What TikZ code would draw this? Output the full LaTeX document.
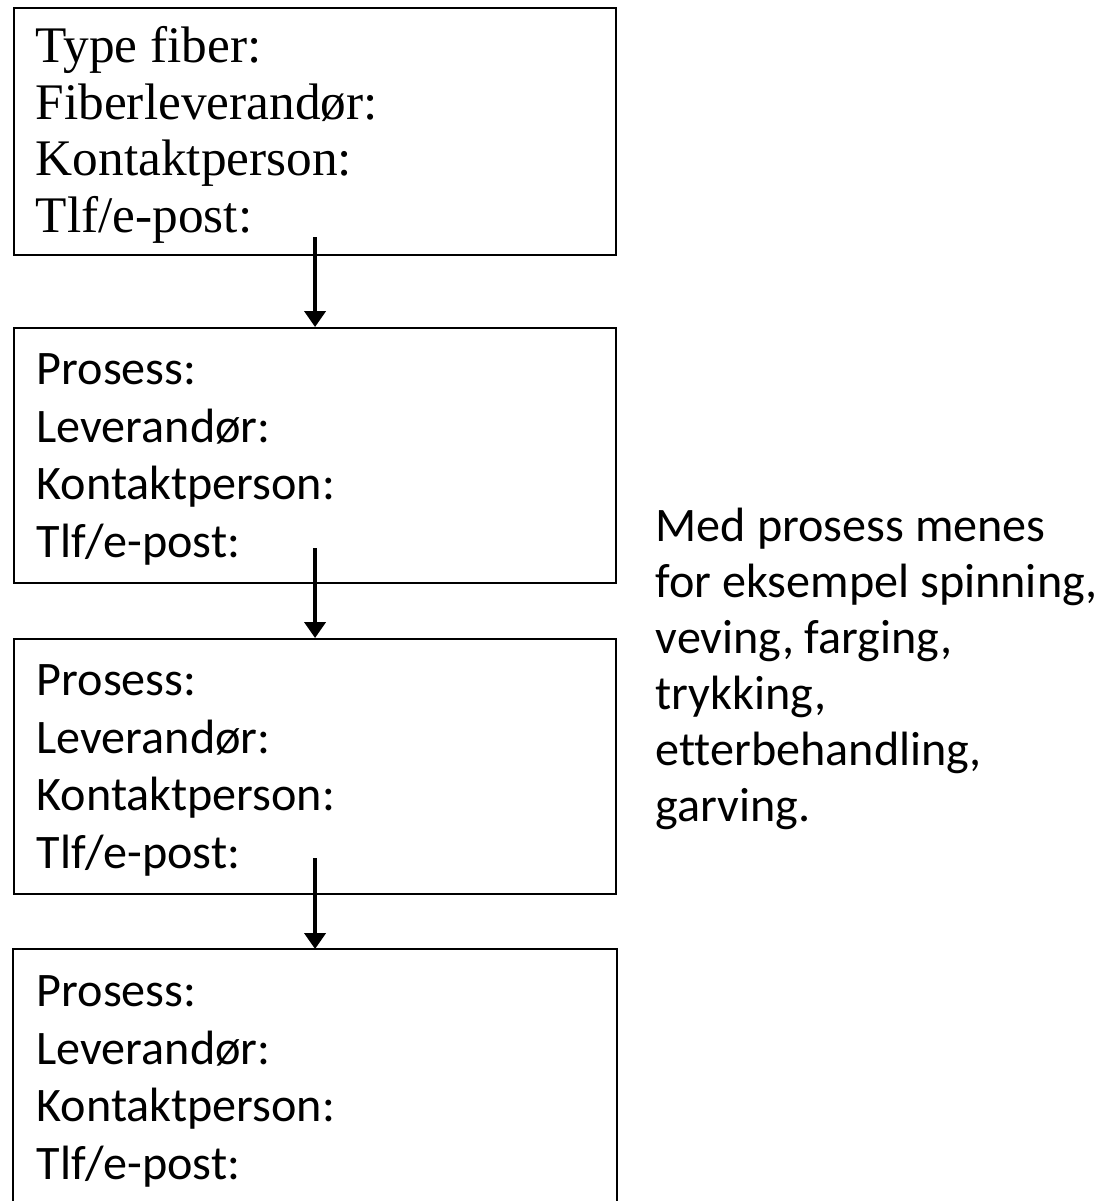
\documentclass[tikz,border=0pt]{standalone}
\usepackage{fontspec}
\setmainfont{Carlito}[Ligatures=NoCommon]
\newfontfamily\fiberfont{Liberation Serif}
\usetikzlibrary{arrows.meta,calc}

\tikzset{
  boks/.style={minimum width=6.02cm, minimum height=2.55cm, anchor=north west,
    inner sep=0pt, line width=0.6pt},
  linje/.style={anchor=base west, inner sep=0pt},
  pil/.style={line width=0.9pt, -{Triangle[width=6pt,length=4.5pt]}}
}

\begin{document}
\begin{tikzpicture}[font=\fontsize{13.7}{16}\selectfont]
  \useasboundingbox (0,0) rectangle (10.99,12.01);
  % === Fiber ===
  \node[boks,draw,minimum height=2.47cm] (fiber) at (0.13,11.94) {};
  \foreach \t [count=\i] in {Type fiber:, Fiberleverandør:, Kontaktperson:, Tlf/e-post:}
    \node[linje,font=\fiberfont\fontsize{14.6}{17}\selectfont] (f\i)
      at ($(fiber.north west)+(0.22,{0.005-0.565*\i})$) {\t};
  % === Prosess-bokser ===
  \node[boks,draw] (p1) at (0.13,8.74) {};
  \node[boks,draw] (p2) at (0.13,5.63) {};
  \node[boks,minimum height=2.52cm] (p3) at (0.13,2.52) {};
  \draw[line width=0.6pt] (p3.south west) |- (p3.north east) -- (p3.south east);
  \foreach \b in {p1,p2,p3}
    \foreach \t [count=\i] in {Prosess:, Leverandør:, Kontaktperson:, Tlf/e-post:}
      \node[linje] (\b-\i) at ($(\b.north west)+(0.23,{-0.005-0.575*\i})$) {\t};
  % === Piler ===
  \draw[pil] ([yshift=0.19cm]fiber.south) -- (p1.north);
  \draw[pil] ([yshift=0.36cm]p1.south) -- (p2.north);
  \draw[pil] ([yshift=0.37cm]p2.south) -- (p3.north);
  % === Merknad ===
  \foreach \t [count=\i] in {Med prosess menes, {for eksempel spinning,}, {veving, farging,},
      {trykking,}, {etterbehandling,}, garving.}
    \node[linje] (m\i) at (6.55,{7.15-0.56*\i}) {\t};
\end{tikzpicture}
\end{document}
